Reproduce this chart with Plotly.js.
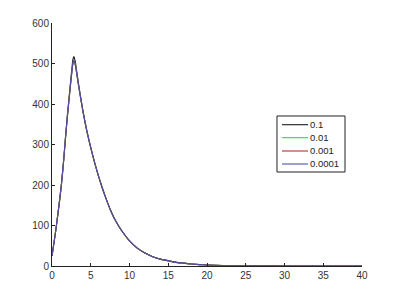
<!DOCTYPE html>
<html>
<head>
<meta charset="utf-8">
<script src="https://cdn.plot.ly/plotly-3.0.1.min.js"></script>
<style>html,body{margin:0;padding:0;background:#fff;}#chart{width:400px;height:299px;}</style>
</head>
<body>
<div id="chart"></div>
<script>
const t = [0, 0.25, 0.5, 0.75, 1, 1.25, 1.5, 1.75, 2, 2.25, 2.5, 2.7, 2.82, 3, 3.25, 3.5, 4, 4.5, 5, 5.5, 6, 6.5, 7, 7.5, 8, 8.5, 9, 10, 11, 12, 13, 14, 15, 16, 17, 18, 19, 20, 22, 25, 30, 35, 40];
const seriesNames = ["0.1", "0.01", "0.001", "0.0001"];
const s01 =    [25, 57, 90, 127, 165, 208, 260, 320, 375, 425, 475, 510, 517, 505, 472, 440, 382, 333, 292, 255, 222, 192, 165, 140, 119, 102, 87, 62, 44, 32, 23, 17, 13, 9, 7, 5, 3.5, 2.5, 1.2, 0.5, 0.1, 0, 0];
const s001 =   [25, 57, 90, 127, 165, 208, 260, 318, 372, 421, 468, 500, 507, 498, 468, 437, 381, 333, 292, 255, 222, 192, 165, 140, 119, 102, 87, 62, 44, 32, 23, 17, 13, 9, 7, 5, 3.5, 2.5, 1.2, 0.5, 0.1, 0, 0];
const s0001 =  [25, 57, 90, 127, 165, 208, 260, 318, 372, 421, 468, 500, 507, 498, 468, 437, 381, 333, 292, 255, 222, 192, 165, 140, 119, 102, 87, 62, 44, 32, 23, 17, 13, 9, 7, 5, 3.5, 2.5, 1.2, 0.5, 0.1, 0, 0];
const s00001 = [25, 57, 90, 127, 165, 208, 260, 318, 372, 421, 468, 500, 507, 498, 468, 437, 381, 333, 292, 255, 222, 192, 165, 140, 119, 102, 87, 62, 44, 32, 23, 17, 13, 9, 7, 5, 3.5, 2.5, 1.2, 0.5, 0.1, 0, 0];
const xTicks = [0, 5, 10, 15, 20, 25, 30, 35, 40];
const yTicks = [0, 100, 200, 300, 400, 500, 600];

const values = [s01, s001, s0001, s00001];
const colors = ["#1a1a1a", "#44cc44", "#b03030", "#5050a8"];
const traces = values.map((v, i) => ({
  x: t, y: v, type: "scatter", mode: "lines", name: seriesNames[i],
  line: {color: colors[i], width: 1.1, shape: "spline", smoothing: 0.5}
}));

// compact MATLAB-style legend box (paper coordinates)
const legBox = {x0: 0.7258, x1: 0.9452, y0: 0.3868, y1: 0.6173};
const rowY = [0.5815, 0.528, 0.4733, 0.4198];
const shapes = [{type: "rect", xref: "paper", yref: "paper", x0: legBox.x0, x1: legBox.x1, y0: legBox.y0, y1: legBox.y1,
  line: {color: "#222", width: 1}, fillcolor: "#fff", layer: "above"}];
const annotations = [];
seriesNames.forEach((n, i) => {
  shapes.push({type: "line", xref: "paper", yref: "paper", x0: 0.742, x1: 0.826, y0: rowY[i], y1: rowY[i],
    line: {color: colors[i], width: 1.1}, layer: "above"});
  annotations.push({xref: "paper", yref: "paper", x: 0.826, y: rowY[i], xanchor: "left", yanchor: "middle",
    text: n, showarrow: false, font: {family: "Liberation Sans, Arial, sans-serif", size: 9.5, color: "#222"}});
});

const axisCommon = {
  showgrid: false, zeroline: false, showline: true, linecolor: "#222", linewidth: 1,
  ticks: "inside", ticklen: 3, tickcolor: "#222", mirror: false,
  tickfont: {family: "Liberation Sans, Arial, sans-serif", size: 10, color: "#333"}
};
const layout = {
  width: 400, height: 299,
  margin: {l: 52, r: 38, t: 23, b: 33, pad: 0},
  paper_bgcolor: "#fff", plot_bgcolor: "#fff",
  showlegend: false,
  xaxis: Object.assign({}, axisCommon, {range: [0, 40], tickvals: xTicks, ticktext: xTicks.map(String)}),
  yaxis: Object.assign({}, axisCommon, {range: [0, 600], tickvals: yTicks, ticktext: yTicks.map(String)}),
  shapes: shapes,
  annotations: annotations
};
Plotly.newPlot("chart", traces, layout, {staticPlot: true, displayModeBar: false});
</script>
</body>
</html>
